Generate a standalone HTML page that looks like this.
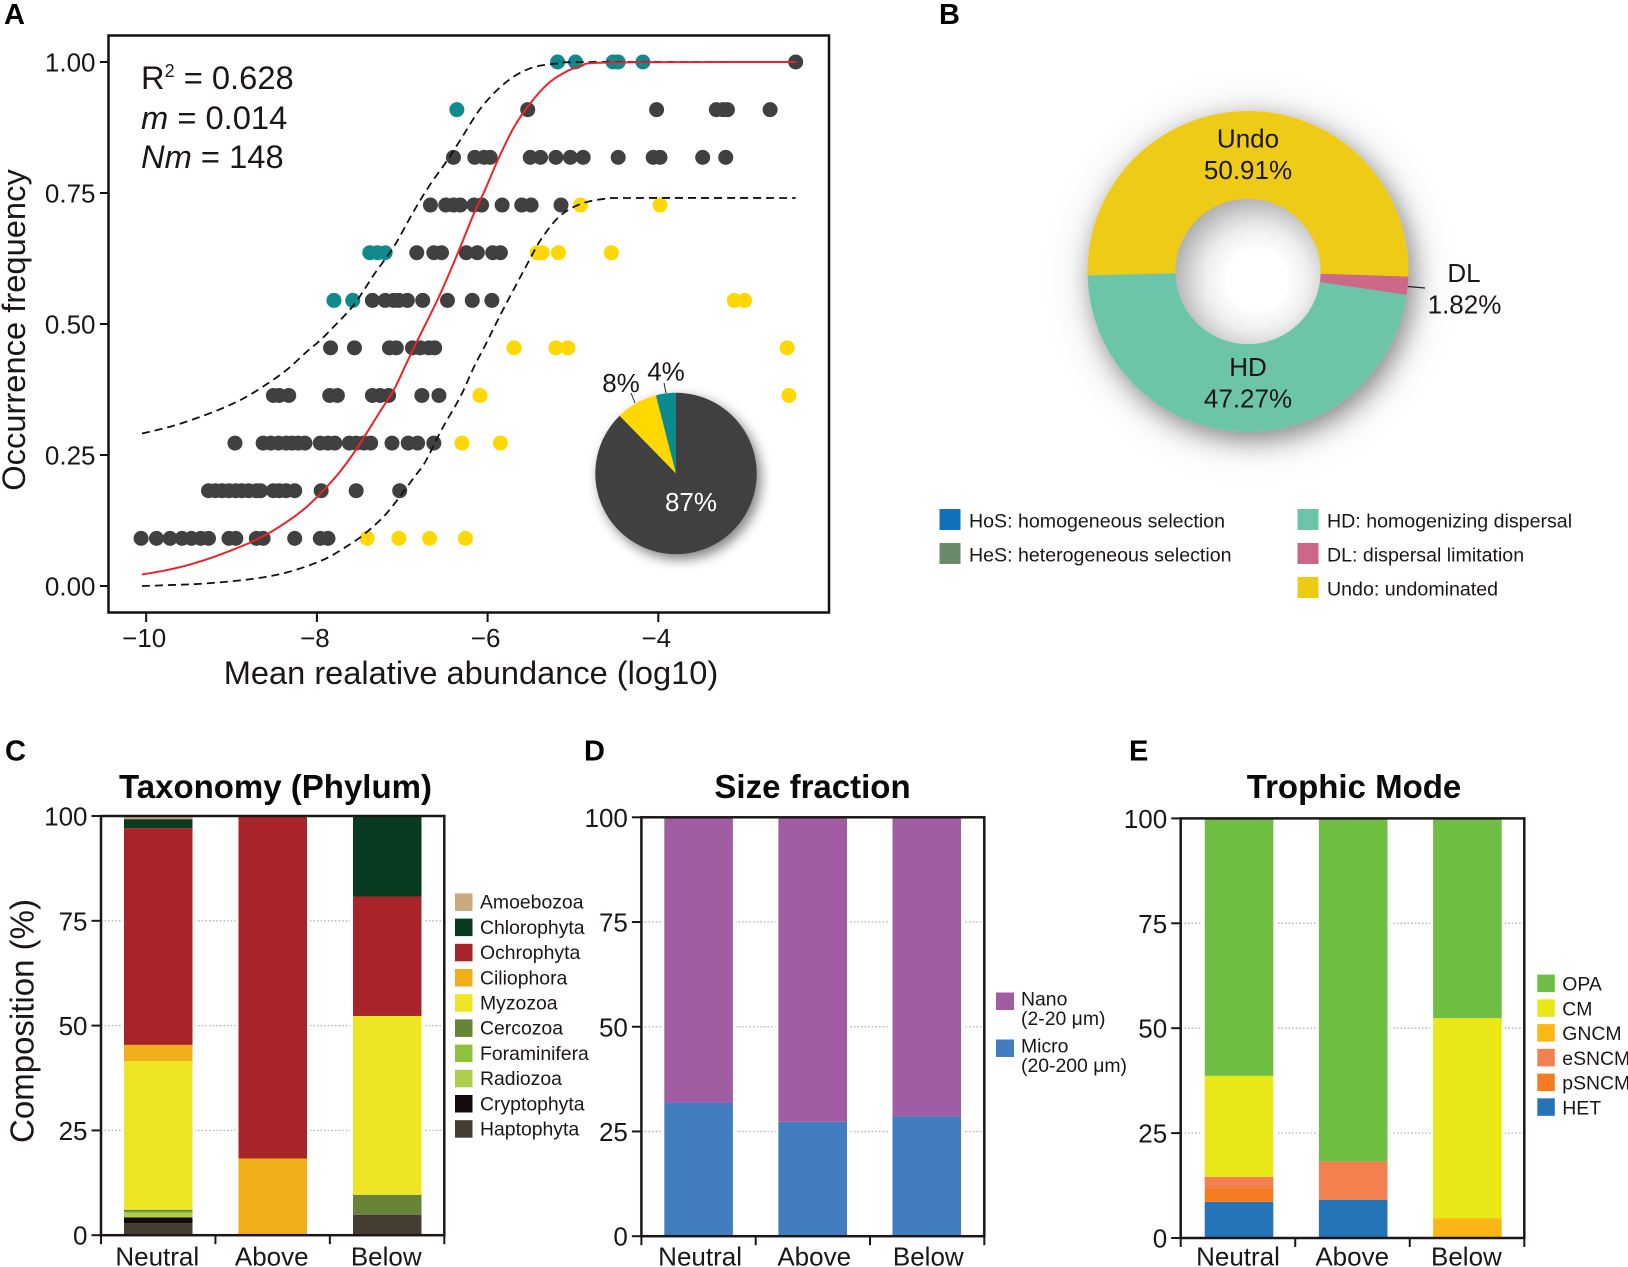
<!DOCTYPE html>
<html lang="en">
<head>
<meta charset="utf-8">
<title>Community assembly figure</title>
<style>
html,body{margin:0;padding:0;background:#fff;}
body{width:1628px;height:1267px;overflow:hidden;}
svg{display:block;}
text{font-family:"Liberation Sans",Arial,sans-serif;fill:#1d1616;}
.panel-letter{font-size:29px;font-weight:bold;fill:#000;}
.title{font-size:33px;font-weight:bold;fill:#0a0a0a;text-anchor:middle;}
</style>
</head>
<body>
<svg id="figure" xmlns="http://www.w3.org/2000/svg" width="1628" height="1267" viewBox="0 0 1628 1267">
  <defs>
    <filter id="donut-shadow" x="-40%" y="-40%" width="180%" height="180%">
      <feGaussianBlur in="SourceAlpha" stdDeviation="13" result="tight"/>
      <feOffset in="tight" dx="5" dy="8" result="tightOff"/>
      <feComponentTransfer in="tightOff" result="tightFaded"><feFuncA type="linear" slope="0.42"/></feComponentTransfer>
      <feGaussianBlur in="SourceAlpha" stdDeviation="27" result="wide"/>
      <feOffset in="wide" dx="3" dy="6" result="wideOff"/>
      <feComponentTransfer in="wideOff" result="wideFaded"><feFuncA type="linear" slope="0.14"/></feComponentTransfer>
      <feMerge><feMergeNode in="wideFaded"/><feMergeNode in="tightFaded"/><feMergeNode in="SourceGraphic"/></feMerge>
    </filter>
    <filter id="pie-shadow" x="-30%" y="-30%" width="160%" height="160%">
      <feGaussianBlur in="SourceAlpha" stdDeviation="6"/>
      <feOffset dx="4" dy="5"/>
      <feComponentTransfer><feFuncA type="linear" slope="0.5"/></feComponentTransfer>
      <feMerge><feMergeNode/><feMergeNode in="SourceGraphic"/></feMerge>
    </filter>
    <radialGradient id="hole-shade" gradientUnits="userSpaceOnUse" cx="1257" cy="280" r="85">
      <stop offset="0" stop-color="#ffffff"/>
      <stop offset="0.35" stop-color="#ffffff"/>
      <stop offset="0.6" stop-color="#efefef"/>
      <stop offset="0.75" stop-color="#d9d9d9"/>
      <stop offset="1" stop-color="#aeaeae"/>
    </radialGradient>
  </defs>

  <text class="panel-letter" x="4" y="24">A</text>
  <text class="panel-letter" x="939" y="24">B</text>
  <text class="panel-letter" x="5" y="760.5">C</text>
  <text class="panel-letter" x="584" y="760.5">D</text>
  <text class="panel-letter" x="1129" y="760.5">E</text>

  <g id="panel-a">
    <g id="a-dots"></g>
    <g id="a-curves"></g>
    <rect x="108.5" y="35.5" width="720.5" height="577" fill="none" stroke="#111" stroke-width="2.5"/>
    <g id="a-axes"></g>
    <text x="141" y="89" font-size="32.7">R<tspan font-size="18" dy="-12">2</tspan><tspan dy="12"> = 0.628</tspan></text>
    <text x="141" y="129" font-size="32.7"><tspan font-style="italic">m</tspan> = 0.014</text>
    <text x="141" y="168" font-size="32.7"><tspan font-style="italic">Nm</tspan> = 148</text>
    <text transform="translate(25,330) rotate(-90)" text-anchor="middle" font-size="32.7">Occurrence frequency</text>
    <text x="471" y="684" text-anchor="middle" font-size="32.6">Mean realative abundance (log10)</text>
    <g id="a-inset"></g>
    <line x1="631" y1="393" x2="635" y2="403" stroke="#222" stroke-width="1"/>
    <line x1="664" y1="383" x2="666" y2="393" stroke="#222" stroke-width="1"/>
    <text x="621" y="392" text-anchor="middle" font-size="26">8%</text>
    <text x="666" y="380.5" text-anchor="middle" font-size="26">4%</text>
    <text x="691" y="511" text-anchor="middle" font-size="26" style="fill:#fff">87%</text>
  </g>

  <g id="panel-b">
    <g id="b-donut"></g>
    <circle cx="1248" cy="271.5" r="72.6" fill="url(#hole-shade)"/>
    <text x="1248" y="147.5" text-anchor="middle" font-size="26">Undo</text>
    <text x="1248" y="179" text-anchor="middle" font-size="26">50.91%</text>
    <text x="1248" y="376" text-anchor="middle" font-size="26">HD</text>
    <text x="1248" y="407.5" text-anchor="middle" font-size="26">47.27%</text>
    <text x="1464" y="282" text-anchor="middle" font-size="26">DL</text>
    <text x="1464.5" y="313.5" text-anchor="middle" font-size="26">1.82%</text>
    <line x1="1408" y1="286.5" x2="1425" y2="288" stroke="#222" stroke-width="1.2"/>
    <g font-size="19.6">
      <rect x="939.5" y="509" width="21" height="21" fill="#0f71bc"/>
      <text x="969" y="527.5">HoS: homogeneous selection</text>
      <rect x="939.5" y="543" width="21" height="21" fill="#6a8a6b"/>
      <text x="969" y="561.5">HeS: heterogeneous selection</text>
      <rect x="1297.5" y="509" width="21" height="21" fill="#6dc5a9"/>
      <text x="1327" y="527.5">HD: homogenizing dispersal</text>
      <rect x="1297.5" y="543" width="21" height="21" fill="#cd6788"/>
      <text x="1327" y="561.5">DL: dispersal limitation</text>
      <rect x="1297.5" y="577" width="21" height="21" fill="#edcb14"/>
      <text x="1327" y="595.5">Undo: undominated</text>
    </g>
  </g>

  <g id="panel-c">
    <text class="title" x="275.5" y="798">Taxonomy (Phylum)</text>
    <text transform="translate(33.5,1021) rotate(-90)" text-anchor="middle" font-size="33">Composition (%)</text>
  </g>
  <g id="panel-d">
    <text class="title" x="812.5" y="798">Size fraction</text>
    <g font-size="19.4">
      <rect x="996" y="992.5" width="18" height="17.5" fill="#a05da3"/>
      <text x="1021" y="1005.5">Nano</text>
      <text x="1021" y="1025">(2-20 μm)</text>
      <rect x="996" y="1039.5" width="18" height="17.5" fill="#417dbf"/>
      <text x="1021" y="1052.5">Micro</text>
      <text x="1021" y="1072">(20-200 μm)</text>
    </g>
  </g>
  <g id="panel-e">
    <text class="title" x="1354" y="798">Trophic Mode</text>
  </g>
</svg>

<script>
/* ---------- Panel A data (log10 abundance values per occurrence level) ---------- */
const occurrenceLevels = [1.0, 0.909, 0.818, 0.727, 0.636, 0.545, 0.4545, 0.3636, 0.2727, 0.1818, 0.0909];
const neutralAbundance = [
  [-2.39],
  [-5.53, -4.02, -3.32, -3.24, -3.19, -2.69],
  [-6.40, -6.15, -6.04, -5.97, -5.50, -5.38, -5.20, -5.03, -4.88, -4.47, -4.06, -3.98, -3.48, -3.21],
  [-6.67, -6.49, -6.40, -6.32, -6.16, -6.07, -5.83, -5.60, -5.49, -5.14],
  [-6.83, -6.63, -6.54, -6.25, -6.12, -5.94, -5.85],
  [-7.35, -7.20, -7.10, -7.04, -6.94, -6.76, -6.47, -6.18, -5.95],
  [-7.84, -7.56, -7.15, -7.07, -6.88, -6.79, -6.69, -6.62],
  [-8.51, -8.44, -8.33, -7.85, -7.76, -7.35, -7.26, -7.16, -6.77, -6.57],
  [-8.96, -8.63, -8.54, -8.45, -8.36, -8.29, -8.22, -8.14, -7.96, -7.87, -7.79, -7.62, -7.54, -7.45, -7.37, -7.12, -6.93, -6.82, -6.63],
  [-9.27, -9.19, -9.11, -9.03, -8.95, -8.88, -8.80, -8.71, -8.66, -8.51, -8.44, -8.36, -8.26, -7.95, -7.54, -7.03],
  [-10.06, -9.88, -9.72, -9.58, -9.47, -9.36, -9.27, -9.03, -8.95, -8.71, -8.63, -8.26, -7.96, -7.87]
];
const aboveAbundance = [
  [-5.18, -4.97, -4.53, -4.47, -4.18],
  [-6.36],
  [],
  [],
  [-7.38, -7.29, -7.20],
  [-7.80, -7.58],
  [], [], [], [], []
];
const belowAbundance = [
  [], [], [],
  [-4.91, -3.98],
  [-5.42, -5.36, -5.17, -4.55],
  [-3.11, -2.99],
  [-5.69, -5.20, -5.06, -2.49],
  [-6.09, -2.47],
  [-6.30, -5.85],
  [],
  [-7.41, -7.04, -6.68, -6.26]
];
const fitX = [-10.05, -9.80, -9.53, -9.25, -9.02, -8.78, -8.55, -8.32, -8.12, -7.92, -7.73, -7.53, -7.26, -7.10, -6.95, -6.83, -6.57, -6.35, -6.16, -6.03, -5.88, -5.69, -5.50, -5.31, -5.13, -4.91, -4.56, -2.39];
const fitY = [0.022, 0.029, 0.039, 0.053, 0.067, 0.083, 0.102, 0.126, 0.151, 0.183, 0.218, 0.263, 0.333, 0.374, 0.425, 0.466, 0.552, 0.635, 0.711, 0.756, 0.813, 0.876, 0.921, 0.956, 0.977, 0.992, 0.999, 1.0];
const upperX = [-10.05, -9.72, -9.45, -9.14, -8.86, -8.59, -8.35, -8.12, -7.96, -7.82, -7.57, -7.32, -7.10, -6.88, -6.69, -6.47, -6.32, -6.07, -5.78, -5.50, -5.19, -4.81, -2.39];
const upperY = [0.291, 0.304, 0.318, 0.337, 0.358, 0.385, 0.413, 0.447, 0.469, 0.492, 0.536, 0.597, 0.647, 0.711, 0.762, 0.813, 0.851, 0.914, 0.962, 0.988, 0.997, 1.0, 1.0];
const lowerX = [-10.05, -9.68, -9.33, -8.94, -8.63, -8.35, -8.08, -7.85, -7.61, -7.46, -7.22, -7.03, -6.87, -6.73, -6.54, -6.32, -6.16, -6.02, -5.82, -5.53, -5.38, -5.16, -4.91, -4.62, -4.31, -2.39];
const lowerY = [0.0, 0.002, 0.0045, 0.010, 0.0165, 0.026, 0.040, 0.056, 0.080, 0.097, 0.132, 0.170, 0.2055, 0.237, 0.298, 0.361, 0.418, 0.462, 0.527, 0.616, 0.66, 0.705, 0.729, 0.739, 0.7405, 0.7405];
const xTicksA = [-10, -8, -6, -4];
const xTickLabelsA = ['\u221210', '\u22128', '\u22126', '\u22124'];
const yTicksA = [0, 0.25, 0.5, 0.75, 1];
const yTickLabelsA = ['0.00', '0.25', '0.50', '0.75', '1.00'];
const insetValues = [87.7, 8.3, 4.0];
const insetColors = ['#404040', '#ffd800', '#108a8d'];

/* ---------- Panel B data ---------- */
const donutValues = [50.91, 1.82, 47.27];
const donutColors = ['#edcb14', '#cd6788', '#6dc5a9'];

/* ---------- Bar categories ---------- */
const barCategories = ['Neutral', 'Above', 'Below'];
const percentTicks = [0, 25, 50, 75, 100];

/* ---------- Panel C data (Neutral, Above, Below) ---------- */
const haptophyta = [2.9, 0, 4.9];
const cryptophyta = [1.34, 0, 0];
const radiozoa = [0.96, 0, 0];
const foraminifera = [0.4, 0, 0];
const cercozoa = [0.47, 0, 4.75];
const myzozoa = [35.43, 0, 42.65];
const ciliophora = [3.9, 18.3, 0];
const ochrophyta = [51.7, 81.7, 28.5];
const chlorophyta = [2.15, 0, 19.2];
const amoebozoa = [0.75, 0, 0];

/* ---------- Panel D data ---------- */
const micro = [31.8, 27.3, 28.6];
const nano = [68.2, 72.7, 71.4];

/* ---------- Panel E data ---------- */
const het = [8.6, 9.06, 0];
const psncm = [3.3, 0, 0];
const esncm = [2.65, 9.14, 0];
const gncm = [0, 0, 4.74];
const cm = [24.1, 0, 47.66];
const opa = [61.35, 81.8, 47.6];

/* ---------- Helpers ---------- */
const NS = 'http://www.w3.org/2000/svg';
function mk(parent, tag, attrs, txt) {
  const el = document.createElementNS(NS, tag);
  for (const k in attrs) el.setAttribute(k, attrs[k]);
  if (txt !== undefined) el.textContent = txt;
  parent.appendChild(el);
  return el;
}
function smoothPath(pts) {
  let d = 'M' + pts[0][0] + ' ' + pts[0][1];
  for (let i = 0; i < pts.length - 1; i++) {
    const p0 = pts[Math.max(i - 1, 0)], p1 = pts[i], p2 = pts[i + 1], p3 = pts[Math.min(i + 2, pts.length - 1)];
    const c1x = p1[0] + (p2[0] - p0[0]) / 6, c1y = p1[1] + (p2[1] - p0[1]) / 6;
    const c2x = p2[0] - (p3[0] - p1[0]) / 6, c2y = p2[1] - (p3[1] - p1[1]) / 6;
    d += ' C' + c1x + ' ' + c1y + ' ' + c2x + ' ' + c2y + ' ' + p2[0] + ' ' + p2[1];
  }
  return d;
}
function polar(cx, cy, r, deg) {
  const a = deg * Math.PI / 180;
  return [cx + r * Math.sin(a), cy - r * Math.cos(a)];
}
function sectorPath(cx, cy, R, r, a0, a1) {
  const large = (a1 - a0) > 180 ? 1 : 0;
  const p0 = polar(cx, cy, R, a0), p1 = polar(cx, cy, R, a1);
  if (r <= 0) {
    return 'M' + cx + ' ' + cy + ' L' + p0 + ' A' + R + ' ' + R + ' 0 ' + large + ' 1 ' + p1 + ' Z';
  }
  const p2 = polar(cx, cy, r, a1), p3 = polar(cx, cy, r, a0);
  return 'M' + p0 + ' A' + R + ' ' + R + ' 0 ' + large + ' 1 ' + p1 + ' L' + p2 + ' A' + r + ' ' + r + ' 0 ' + large + ' 0 ' + p3 + ' Z';
}

/* ---------- Panel A ---------- */
const xA = v => 146.2 + (v + 10) * 85.35;
const yA = v => 586 - 524 * v;
const dotsGroup = document.getElementById('a-dots');
function drawDots(list, color, name) {
  list.forEach((xs, i) => {
    xs.forEach(x => {
      const c = mk(dotsGroup, 'circle', { cx: xA(x), cy: yA(occurrenceLevels[i]), r: 7.5, fill: color });
      
      
    });
  });
}
drawDots(neutralAbundance, '#404040', 'neutral-point');
drawDots(aboveAbundance, '#108a8d', 'above-point');
drawDots(belowAbundance, '#ffd800', 'below-point');

const curvesGroup = document.getElementById('a-curves');
function zipCurve(xs, ys) { return xs.map((x, i) => [xA(x), yA(ys[i])]); }
const upperLine = mk(curvesGroup, 'path', { d: smoothPath(zipCurve(upperX, upperY)), fill: 'none', stroke: '#111', 'stroke-width': 1.8, 'stroke-dasharray': '8 5' });


const lowerLine = mk(curvesGroup, 'path', { d: smoothPath(zipCurve(lowerX, lowerY)), fill: 'none', stroke: '#111', 'stroke-width': 1.8, 'stroke-dasharray': '8 5' });


const fitLine = mk(curvesGroup, 'path', { d: smoothPath(zipCurve(fitX, fitY)), fill: 'none', stroke: '#ec2329', 'stroke-width': 2 });



const axesA = document.getElementById('a-axes');
xTicksA.forEach((t, i) => {
  const tick = mk(axesA, 'line', { x1: xA(t), x2: xA(t), y1: 613, y2: 622, stroke: '#111', 'stroke-width': 2 });
  
  
  const lab = mk(axesA, 'text', { x: xA(t) - 2, y: 647, 'text-anchor': 'middle', 'font-size': 26 }, xTickLabelsA[i]);
  
  
});
yTicksA.forEach((t, i) => {
  const tick = mk(axesA, 'line', { x1: 100, x2: 108, y1: yA(t), y2: yA(t), stroke: '#111', 'stroke-width': 2 });
  
  
  const lab = mk(axesA, 'text', { x: 95.5, y: yA(t) + 9.5, 'text-anchor': 'end', 'font-size': 26 }, yTickLabelsA[i]);
  
  
});

const insetGroup = document.getElementById('a-inset');
insetGroup.setAttribute('filter', 'url(#pie-shadow)');
(function () {
  const total = insetValues.reduce((a, b) => a + b, 0);
  let ang = 0;
  insetValues.forEach((v, i) => {
    const next = ang + v / total * 360;
    const s = mk(insetGroup, 'path', { d: sectorPath(676, 473.5, 80.7, 0, ang, next), fill: insetColors[i] });
    
    
    ang = next;
  });
})();

/* ---------- Panel B ---------- */
const donutGroup = document.getElementById('b-donut');
donutGroup.setAttribute('filter', 'url(#donut-shadow)');
(function () {
  const total = donutValues.reduce((a, b) => a + b, 0);
  let ang = -91.45;
  donutValues.forEach((v, i) => {
    const next = ang + v / total * 360;
    const s = mk(donutGroup, 'path', { d: sectorPath(1248, 271.5, 160.5, 72.5, ang, next), fill: donutColors[i] });
    
    
    ang = next;
  });
})();

/* ---------- Stacked bar panels ---------- */
function drawStacked(cfg) {
  const g = document.getElementById(cfg.id);
  const y = v => cfg.bottom - (cfg.bottom - cfg.top) * v / 100;
  percentTicks.forEach(t => {
    if (t > 0 && t < 100) {
      const grid = mk(g, 'line', { x1: cfg.left, x2: cfg.right, y1: y(t), y2: y(t), stroke: '#b5b5b5', 'stroke-width': 1.3, 'stroke-dasharray': '1.6 2' });
      
      
    }
  });
  barCategories.forEach((cat, c) => {
    const bx = cfg.firstBar + c * cfg.barStep;
    const halo = mk(g, 'rect', { x: bx - 3, y: cfg.top, width: cfg.barWidth + 6, height: cfg.bottom - cfg.top, fill: '#fff' });
    
    
    let base = 0;
    cfg.series.forEach(s => {
      const v = s.values[c];
      if (v > 0) {
        const seg = mk(g, 'rect', { x: bx, y: y(base + v), width: cfg.barWidth, height: y(base) - y(base + v), fill: s.color });
        
        
      }
      base += v;
    });
    const lab = mk(g, 'text', { x: bx + cfg.barWidth / 2 + cfg.labelShift, y: 1265.5, 'text-anchor': 'middle', 'font-size': 26 }, cat);
    
    
  });
  const frame = mk(g, 'rect', { x: cfg.left, y: cfg.top, width: cfg.right - cfg.left, height: cfg.bottom - cfg.top, fill: 'none', stroke: '#1d1616', 'stroke-width': 2.5 });
  
  
  percentTicks.forEach(t => {
    const tick = mk(g, 'line', { x1: cfg.left - 9.5, x2: cfg.left, y1: y(t), y2: y(t), stroke: '#1d1616', 'stroke-width': 2 });
    
    
    const lab = mk(g, 'text', { x: cfg.left - 13.5, y: y(t) + 9.5, 'text-anchor': 'end', 'font-size': 26 }, String(t));
    
    
  });
  for (let i = 0; i <= barCategories.length; i++) {
    const tx = cfg.left + (cfg.right - cfg.left) * i / barCategories.length;
    const tick = mk(g, 'line', { x1: tx, x2: tx, y1: cfg.bottom, y2: cfg.bottom + 9, stroke: '#1d1616', 'stroke-width': 2 });
    
    
  }
  if (cfg.legend) {
    cfg.legend.forEach((s, i) => {
      const ly = cfg.legendTop + i * cfg.legendStep;
      const sw = mk(g, 'rect', { x: cfg.legendX, y: ly, width: 17.5, height: 17.5, fill: s.color });
      
      
      const t = mk(g, 'text', { x: cfg.legendX + 25, y: ly + cfg.legendTextDy, 'font-size': 19.4 }, s.name);
      
      
    });
  }
}

const taxonomySeries = [
  { name: 'Haptophyta', values: haptophyta, color: '#453c32' },
  { name: 'Cryptophyta', values: cryptophyta, color: '#150a0c' },
  { name: 'Radiozoa', values: radiozoa, color: '#acce4b' },
  { name: 'Foraminifera', values: foraminifera, color: '#90c13c' },
  { name: 'Cercozoa', values: cercozoa, color: '#688537' },
  { name: 'Myzozoa', values: myzozoa, color: '#eee625' },
  { name: 'Ciliophora', values: ciliophora, color: '#f0af19' },
  { name: 'Ochrophyta', values: ochrophyta, color: '#a82428' },
  { name: 'Chlorophyta', values: chlorophyta, color: '#073b20' },
  { name: 'Amoebozoa', values: amoebozoa, color: '#c8a87c' }
];
drawStacked({
  id: 'panel-c', left: 101, right: 444.3, top: 816, bottom: 1235.2,
  firstBar: 124, barStep: 114.5, barWidth: 68.5, series: taxonomySeries, labelShift: -1,
  legend: taxonomySeries.slice().reverse(), legendX: 455, legendTop: 893.4, legendStep: 25.2, legendTextDy: 15.3
});
drawStacked({
  id: 'panel-d', left: 641.4, right: 984.3, top: 817.3, bottom: 1236.2,
  firstBar: 664.3, barStep: 114.1, barWidth: 68.6, labelShift: 1.5,
  series: [
    { name: 'Micro', values: micro, color: '#417dbf' },
    { name: 'Nano', values: nano, color: '#a05da3' }
  ]
});
const trophicSeries = [
  { name: 'HET', values: het, color: '#2574b8' },
  { name: 'pSNCM', values: psncm, color: '#f47b20' },
  { name: 'eSNCM', values: esncm, color: '#f3814f' },
  { name: 'GNCM', values: gncm, color: '#fdb714' },
  { name: 'CM', values: cm, color: '#e9e816' },
  { name: 'OPA', values: opa, color: '#6fbe44' }
];
drawStacked({
  id: 'panel-e', left: 1180.7, right: 1524.3, top: 818.4, bottom: 1238,
  firstBar: 1204.7, barStep: 114.2, barWidth: 68.6, series: trophicSeries, labelShift: -1,
  legend: trophicSeries.slice().reverse(), legendX: 1537.3, legendTop: 974.6, legendStep: 24.75, legendTextDy: 16
});
</script>
</body>
</html>
